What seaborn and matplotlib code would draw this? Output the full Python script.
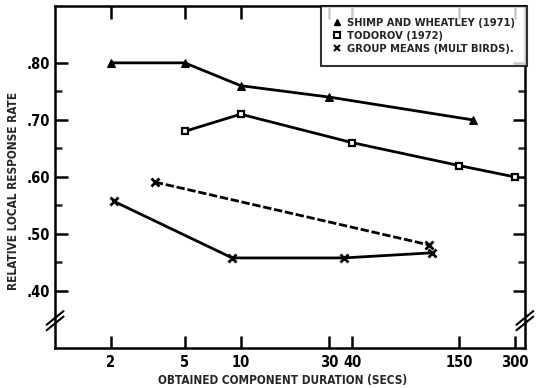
import seaborn as sns
import matplotlib.pyplot as plt
import pandas as pd
import numpy as np
from matplotlib.lines import Line2D
from matplotlib.ticker import FixedLocator, NullLocator, NullFormatter

# data
shimp_x = [2, 5, 10, 30, 178]
shimp_y = [0.80, 0.80, 0.76, 0.74, 0.70]

todorov_x = [5, 10, 40, 150, 300]
todorov_y = [0.68, 0.71, 0.66, 0.62, 0.60]

group_x = [2.08, 9, 36, 108]
group_y = [0.557, 0.458, 0.458, 0.467]

group_dash_x = [3.45, 103]
group_dash_y = [0.591, 0.481]

x_ticks = [2, 5, 10, 30, 40, 150, 300]
x_labels = ["2", "5", "10", "30", "40", "150", "300"]
y_ticks = [0.40, 0.50, 0.60, 0.70, 0.80]
y_labels = [".40", ".50", ".60", ".70", ".80"]
y_minor = [0.45, 0.55, 0.65, 0.75]

legend_labels = ["SHIMP AND WHEATLEY (1971)", "TODOROV (1972)", "GROUP MEANS (MULT BIRDS)."]

sns.set_style("ticks")
plt.rcParams['font.family'] = ['DejaVu Sans']
plt.rcParams['font.stretch'] = 'condensed'
plt.rcParams['font.weight'] = 'bold'

fig, ax = plt.subplots(figsize=(5.4, 3.88), dpi=100)
fig.subplots_adjust(left=0.102, right=0.972, top=0.985, bottom=0.103)

sns.lineplot(x=shimp_x, y=shimp_y, ax=ax, color='black', lw=2, marker='^', ms=6,
             mec='black', mfc='black')
sns.lineplot(x=todorov_x, y=todorov_y, ax=ax, color='black', lw=2, marker='s', ms=5,
             mec='black', mfc='white', mew=1.6)
sns.lineplot(x=group_x, y=group_y, ax=ax, color='black', lw=2, marker='x', ms=6, mew=2,
             mec='black')
sns.lineplot(x=group_dash_x, y=group_dash_y, ax=ax, color='black', lw=2, marker='x', ms=6,
             mew=2, mec='black', linestyle=(0, (3, 1)))

ax.set_xscale('log')
ax.set_xlim(1.0, 340)
ax.set_ylim(0.30, 0.90)

ax.xaxis.set_major_locator(FixedLocator(x_ticks))
ax.set_xticklabels(x_labels)
ax.xaxis.set_minor_locator(NullLocator())
ax.xaxis.set_minor_formatter(NullFormatter())
ax.yaxis.set_major_locator(FixedLocator(y_ticks))
ax.set_yticklabels(y_labels)
ax.yaxis.set_minor_locator(FixedLocator(y_minor))

ax.tick_params(axis='both', which='major', direction='in', length=9, width=1.8,
               top=True, right=True, labelsize=10.5, colors='black')
ax.tick_params(axis='x', which='major', pad=5)
ax.tick_params(axis='both', which='minor', direction='in', length=5, width=1.8,
               top=True, right=True)
for s in ax.spines.values():
    s.set_linewidth(1.8)
    s.set_color('black')

ax.set_xlabel("OBTAINED COMPONENT DURATION (SECS)", fontsize=8.5, fontweight='bold')
ax.set_ylabel("RELATIVE LOCAL RESPONSE RATE", fontsize=8.5, fontweight='bold')
ax.xaxis.set_label_coords(0.485, -0.075)
ax.yaxis.set_label_coords(-0.075, 0.46)

# axis break marks
for xa in (0.0, 1.0):
    for dy in (-0.008, 0.008):
        ax.plot([xa - 0.018, xa + 0.018], [0.08 + dy - 0.02, 0.08 + dy + 0.02],
                transform=ax.transAxes, color='black', lw=1.5, clip_on=False)

handles = [
    Line2D([], [], color='black', marker='^', ls='none', ms=5),
    Line2D([], [], color='black', marker='s', ls='none', ms=4, mfc='white', mew=1.5),
    Line2D([], [], color='black', marker='x', ls='none', ms=4, mew=1.5),
]
leg = ax.legend(handles, legend_labels, loc='upper right', bbox_to_anchor=(1.004, 1.0),
                borderaxespad=0, frameon=True, fancybox=False, fontsize=8.0,
                handlelength=0.6, handletextpad=0.6, labelspacing=0.25, borderpad=1.1)
leg.get_frame().set_edgecolor('black')
leg.get_frame().set_linewidth(1.5)

fig.savefig("out.png", dpi=100)
